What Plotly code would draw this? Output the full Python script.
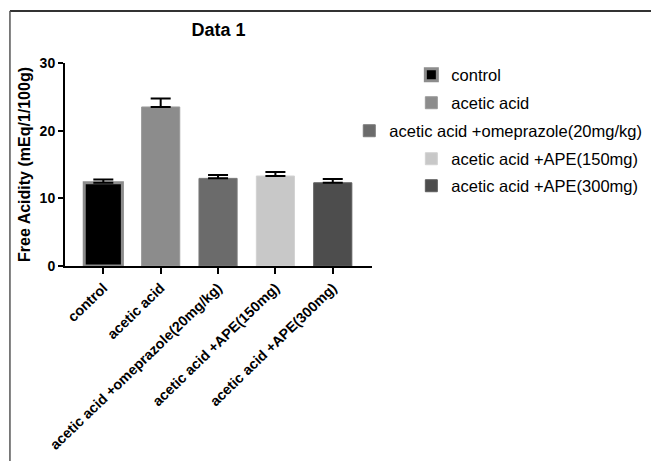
import plotly.graph_objects as go

categories = ["control", "acetic acid", "acetic acid +omeprazole(20mg/kg)",
              "acetic acid +APE(150mg)", "acetic acid +APE(300mg)"]
values = [12.3, 23.5, 12.95, 13.3, 12.3]
errors = [0.5, 1.25, 0.5, 0.6, 0.55]
fill_colors = ["#000000", "#8c8c8c", "#6b6b6b", "#c8c8c8", "#4d4d4d"]
edge_colors = ["#8c8c8c", "#9a9a9a", "#7a7a7a", "#d2d2d2", "#5e5e5e"]
edge_widths = [3, 1, 1, 1, 1]
y_ticks = [0, 10, 20, 30]

W, H = 651, 461
L, R, T, B = 65, 279.3, 63, 195
pw, ph = W - L - R, H - T - B

def px_x(px):
    return (px - L) / pw

def px_y(py):
    return (H - B - py) / ph

FONT = "Arial, 'Liberation Sans', sans-serif"

fig = go.Figure()
legend_names = ["legend", "legend2", "legend3", "legend4", "legend5"]
legend_text_x = [451, 451, 389, 451, 451]
legend_y = [75, 103, 131, 159, 186]

for i, cat in enumerate(categories):
    fig.add_trace(go.Bar(
        x=[cat], y=[values[i]], name=cat, width=0.665,
        marker=dict(color=fill_colors[i], line=dict(color=edge_colors[i], width=edge_widths[i])),
        error_y=dict(type="data", array=[errors[i]], arrayminus=[0], symmetric=False,
                     color="#000000", thickness=2, width=10),
        legend=legend_names[i], showlegend=True,
    ))

layout_legends = {}
for i, ln in enumerate(legend_names):
    layout_legends[ln] = dict(
        x=px_x(legend_text_x[i] - 40), y=px_y(legend_y[i]),
        xanchor="left", yanchor="middle", xref="paper", yref="paper",
        font=dict(family=FONT, size=16.5, color="#000000"),
        bgcolor="rgba(0,0,0,0)", borderwidth=0,
    )

fig.update_layout(
    width=W, height=H,
    margin=dict(l=L, r=R, t=T, b=B, autoexpand=False),
    paper_bgcolor="white", plot_bgcolor="white",
    barmode="overlay",
    title=dict(text="<b>Data 1</b>", x=0.5, xref="paper", xanchor="center",
               y=1 - 30 / H, yanchor="middle", yref="container",
               font=dict(family=FONT, size=18, color="#000000")),
    font=dict(family=FONT, color="#000000"),
    xaxis=dict(range=[-0.668, 4.684], showgrid=False, showline=True, linecolor="#000000",
               linewidth=2, ticks="outside", ticklen=6, tickwidth=2, tickcolor="#000000",
               tickangle=-44, tickfont=dict(family=FONT, size=14.3, color="#000000", weight="bold"),
               zeroline=False),
    yaxis=dict(range=[0, 30], tickvals=y_ticks, showgrid=False, showline=True,
               linecolor="#000000", linewidth=2, ticks="outside", ticklen=5, tickwidth=2,
               tickcolor="#000000", zeroline=False,
               tickfont=dict(family=FONT, size=14, color="#000000", weight="bold"),
               title=dict(text="<b>Free Acidity (mEq/1/100g)</b>", standoff=5,
                          font=dict(family=FONT, size=16, color="#000000"))),
    **layout_legends,
)

# frame lines of the picture (top and left)
fig.add_shape(type="line", xref="paper", yref="paper", x0=px_x(10), x1=px_x(651),
              y0=px_y(11), y1=px_y(11), line=dict(color="#333333", width=2))
fig.add_shape(type="line", xref="paper", yref="paper", x0=px_x(10), x1=px_x(10),
              y0=px_y(11), y1=px_y(461), line=dict(color="#555555", width=1.5))

fig.write_html("out.html")
